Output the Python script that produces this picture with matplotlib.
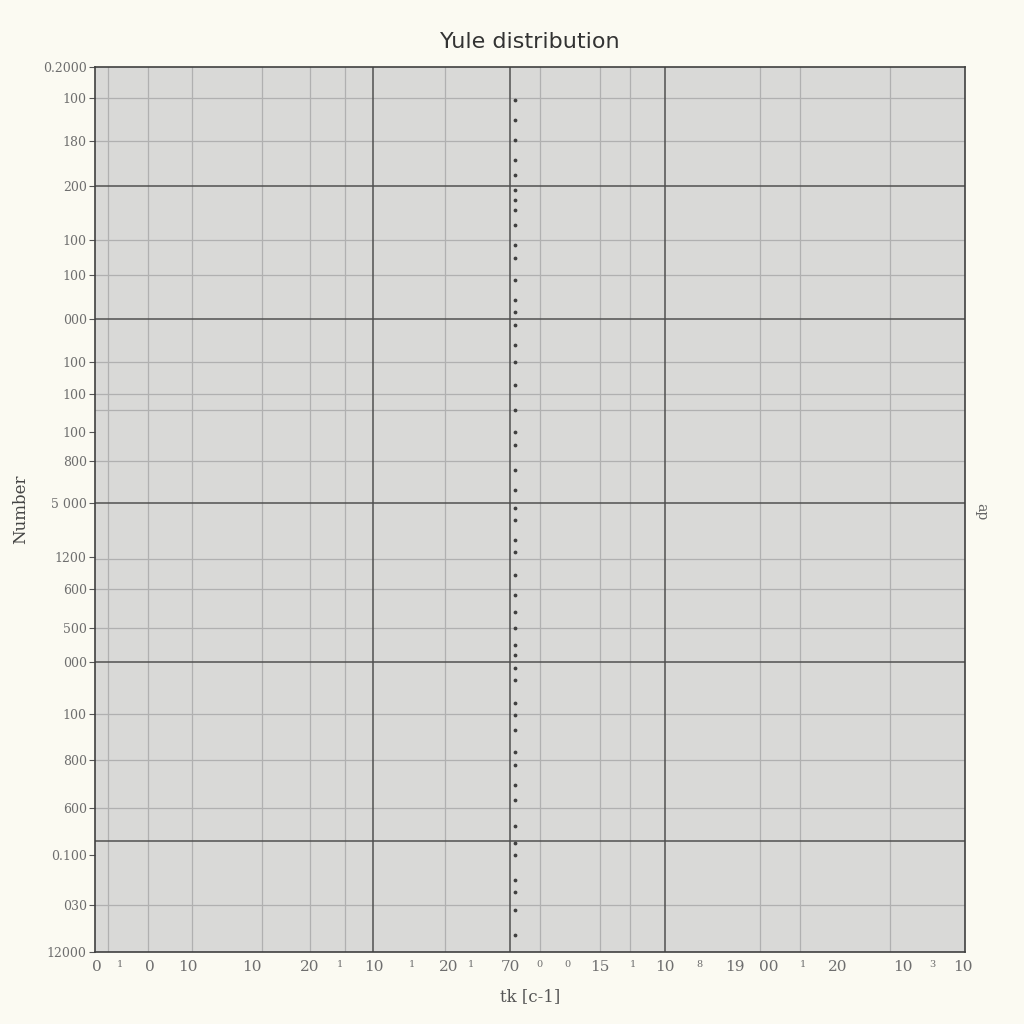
import matplotlib
matplotlib.use("Agg")
import matplotlib.pyplot as plt

# ---- data ----
title = "Yule distribution"
x_label = "tk [c-1]"
y_label = "Number"
right_label = "ap"

k_value = 48.0
sample_y = [96.3, 94.0, 91.8, 89.5, 87.8, 86.1, 85.0, 83.8, 82.1, 79.9, 78.4, 75.9,
            73.7, 72.3, 70.8, 68.6, 66.7, 64.1, 61.2, 58.8, 57.3, 54.5, 52.2, 50.2,
            48.8, 46.6, 45.2, 42.6, 40.3, 38.4, 36.6, 34.7, 33.6, 32.1, 30.7, 28.1,
            26.8, 25.1, 22.6, 21.1, 18.9, 17.2, 14.2, 12.3, 11.0, 8.1, 6.8, 4.7, 1.9]

x_major_ticks = [0.2, 6.3, 10.7, 18.0, 24.7, 32.0, 40.6, 47.7, 58.0, 65.5, 73.6, 77.4,
                 85.4, 92.9, 99.8]
x_major_labels = ["0", "0", "10", "10", "20", "10", "20", "70", "15", "10", "19", "00",
                  "20", "10", "10"]
x_minor_ticks = [2.9, 28.2, 36.4, 43.2, 51.1, 54.3, 61.8, 69.5, 81.4, 96.2]
x_minor_labels = ["1", "1", "1", "1", "0", "0", "1", "8", "1", "3"]

x_major_grid = [32.0, 47.7, 65.5]
x_minor_grid = [1.5, 6.1, 11.1, 19.2, 24.7, 28.7, 40.2, 51.1, 58.0, 61.5, 76.4, 81.0, 91.4]

y_ticks = [100, 96.5, 91.6, 86.6, 80.5, 76.5, 71.5, 66.7, 63.1, 58.8, 55.5, 50.7,
           44.6, 41.0, 36.6, 32.8, 26.9, 21.7, 16.3, 11.0, 5.3, 0]
y_labels = ["0.2000", "100", "180", "200", "100", "100", "000", "100", "100", "100",
            "800", "5 000", "1200", "600", "500", "000", "100", "800", "600", "0.100",
            "030", "12000"]
y_major_grid = [86.6, 71.5, 50.7, 32.8, 12.5]
y_minor_grid = [96.5, 91.6, 80.5, 76.5, 66.7, 63.1, 61.2, 55.5, 44.4, 41.0, 36.6,
                26.9, 21.7, 16.3, 5.3]

# ---- figure ----
fig = plt.figure(figsize=(10.24, 10.24), dpi=100, facecolor="#fbfaf2")
ax = fig.add_axes([0.0928, 0.0703, 0.8496, 0.8643])
ax.set_facecolor("#d9d9d7")
ax.set_xlim(0, 100)
ax.set_ylim(0, 100)

for v in x_minor_grid:
    ax.axvline(v, color="#b0b0b0", lw=0.9, zorder=1)
for v in y_minor_grid:
    ax.axhline(v, color="#b0b0b0", lw=0.9, zorder=1)
for v in x_major_grid:
    ax.axvline(v, color="#505050", lw=1.1, zorder=1.5)
for v in y_major_grid:
    ax.axhline(v, color="#505050", lw=1.1, zorder=1.5)

ax.scatter([k_value + 0.3] * len(sample_y), sample_y, s=3, color="#404040", zorder=3)

ax.set_xticks(x_major_ticks)
ax.set_xticklabels(x_major_labels, fontsize=11, color="#6e6e6e", family="DejaVu Serif")
ax.set_xticks(x_minor_ticks, minor=True)
ax.set_xticklabels(x_minor_labels, minor=True, fontsize=7, color="#6e6e6e", family="DejaVu Serif")
ax.tick_params(axis="x", which="both", length=0, pad=6)

ax.set_yticks(y_ticks)
ax.set_yticklabels(y_labels, fontsize=9, color="#6e6e6e", family="DejaVu Serif")
ax.tick_params(axis="y", length=4, color="#555555", pad=2)

for s in ax.spines.values():
    s.set_color("#404040")
    s.set_linewidth(1.2)

ax.set_title(title, fontsize=16, color="#333333", pad=14)
ax.set_xlabel(x_label, fontsize=12, color="#555555", family="DejaVu Serif", labelpad=10)
ax.set_ylabel(y_label, fontsize=12, color="#444444", family="DejaVu Serif", labelpad=10)
fig.text(0.958, 0.5, right_label, rotation=-90, fontsize=10, color="#666666",
         family="DejaVu Serif", ha="center", va="center")

fig.savefig("out.png", dpi=100, facecolor=fig.get_facecolor())
